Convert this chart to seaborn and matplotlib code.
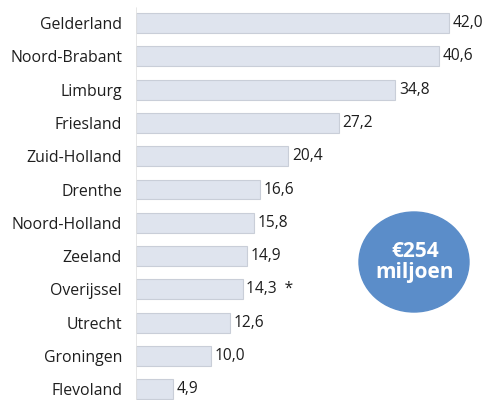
import pandas as pd
import matplotlib.pyplot as plt
import seaborn as sns
from matplotlib.patches import Ellipse

sns.set_style("white")
plt.rcParams["font.family"] = ["Open Sans", "DejaVu Sans"]

provinces = ["Gelderland", "Noord-Brabant", "Limburg", "Friesland", "Zuid-Holland",
             "Drenthe", "Noord-Holland", "Zeeland", "Overijssel", "Utrecht",
             "Groningen", "Flevoland"]
amounts = [42.0, 40.6, 34.8, 27.2, 20.4, 16.6, 15.8, 14.9, 14.3, 12.6, 10.0, 4.9]
notes = ["", "", "", "", "", "", "", "", "*", "", "", ""]
total_label = "€254\nmiljoen"

df = pd.DataFrame({"provincie": provinces, "bedrag": amounts, "noot": notes})

fig = plt.figure(figsize=(4.87, 4.0), dpi=100)
ax = fig.add_axes([136 / 487, 0, 351 / 487, 1])

sns.barplot(data=df, x="bedrag", y="provincie", orient="h", ax=ax,
            color="#dfe4ee", edgecolor="#c9ced8", linewidth=0.8, width=0.6,
            saturation=1)

for i, row in df.iterrows():
    txt = f"{row['bedrag']:.1f}".replace(".", ",")
    if row["noot"]:
        txt += "  " + row["noot"]
    ax.text(row["bedrag"] + 0.5, i, txt, va="center", ha="left",
            fontsize=11.2, color="#1e1e1e")

# row pitch ~33.3 px, first row centred at 23 px from top
ax.set_xlim(0, 47.1)
ax.set_ylim((400 - 23) / 33.3, -23 / 33.3)
ax.set_xlabel("")
ax.set_ylabel("")
ax.set_xticks([])
ax.tick_params(axis="y", length=0, pad=10, labelsize=11.4, labelcolor="#1e1e1e")
for s in ["top", "right", "bottom", "left"]:
    ax.spines[s].set_visible(False)
ax.axvline(0, ymin=0, ymax=1 - 8 / 400, color="#e2e2e2", lw=1.2)

# blue circle with total
circle = Ellipse((414, 400 - 262), 110, 100, transform=None, color="#5b8dc9", zorder=5)
fig.patches.append(circle)
fig.text(415 / 487, 1 - 262 / 400, total_label, ha="center", va="center",
         fontsize=15, fontweight="bold", color="white", linespacing=1.05, zorder=6)

fig.savefig("out.png", dpi=100)
